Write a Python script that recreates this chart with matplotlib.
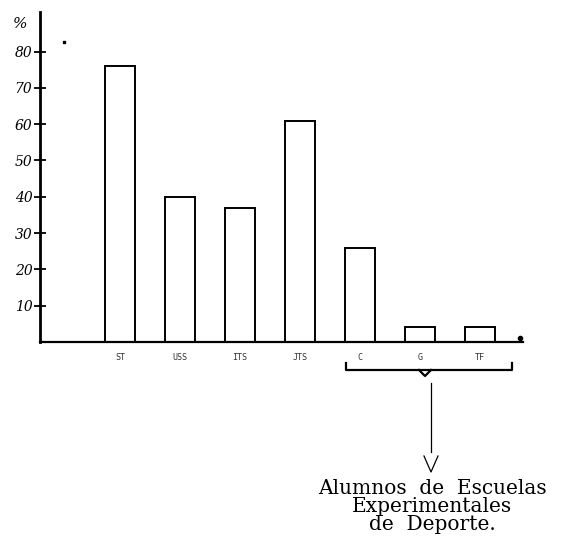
import numpy as np
import matplotlib
matplotlib.use("Agg")
import matplotlib.pyplot as plt

# ============================================================
# DATA
# ============================================================
CATEGORIES = ["ST", "USS", "ITS", "JTS", "C", "G", "TF"]
VALUES = [76, 40, 37, 61, 26, 4, 4]
Y_TICKS = [10, 20, 30, 40, 50, 60, 70, 80]
Y_TICK_LABELS = ["10", "20", "30", "40", "50", "60", "70", "80"]
NOTE_LINES = ["Alumnos  de  Escuelas", "Experimentales", "de  Deporte."]

# ============================================================
# LAYOUT (pixels of a 563x551 figure)
# ============================================================
W, H = 563, 551
AX_LEFT, AX_RIGHT = 40, 523
AX_TOP, AX_BOTTOM = 12, 342
PX_PER_UNIT = 3.63      # vertical pixels per percent
BAR_STEP = 60           # horizontal pixels between bars
FIRST_BAR = 120         # pixel centre of first bar

fig = plt.figure(figsize=(W / 100, H / 100), dpi=100)
fig.patch.set_facecolor("white")

ax = fig.add_axes([AX_LEFT / W, 1 - AX_BOTTOM / H,
                   (AX_RIGHT - AX_LEFT) / W, (AX_BOTTOM - AX_TOP) / H])

x = np.arange(len(CATEGORIES))
ax.bar(x, VALUES, width=0.5, facecolor="white", edgecolor="black", linewidth=1.4)

ax.set_xlim((AX_LEFT - FIRST_BAR) / BAR_STEP, (AX_RIGHT - FIRST_BAR) / BAR_STEP)
ax.set_ylim(0, (AX_BOTTOM - AX_TOP) / PX_PER_UNIT)

for side in ["top", "right"]:
    ax.spines[side].set_visible(False)
ax.spines["left"].set_linewidth(2.0)
ax.spines["bottom"].set_linewidth(1.6)

ax.set_yticks(Y_TICKS)
ax.set_yticklabels(Y_TICK_LABELS, fontsize=10, style="italic", family="DejaVu Serif")
ax.tick_params(axis="y", direction="inout", length=9, width=1.3, pad=1)

ax.set_xticks(x)
ax.set_xticklabels(CATEGORIES, fontsize=6, family="DejaVu Sans Mono", color="#333333")
ax.tick_params(axis="x", length=0, pad=8)

# overlay in pixel coordinates for the hand-drawn annotations
ov = fig.add_axes([0, 0, 1, 1])
ov.set_xlim(0, W)
ov.set_ylim(H, 0)
ov.axis("off")
ov.patch.set_alpha(0)

ov.text(20, 24, "%", fontsize=11, style="italic", family="DejaVu Serif", ha="center", va="center")
ov.plot([64], [42], marker="s", markersize=1.5, color="black")

# bracket under the school groups
bx0, bx1, by = 346, 512, 370
ov.plot([bx0, bx0, bx1, bx1], [by - 7, by, by, by - 7], color="black", lw=1.6)
ov.plot([419, 425, 431], [by, by + 6, by], color="black", lw=1.6)
ov.plot([520], [338], marker="o", markersize=3, color="black")

# pointer and V
ov.plot([431, 431], [383, 452], color="black", lw=0.9)
ov.plot([424, 431, 438], [456, 472, 456], color="black", lw=0.9)

for i, line in enumerate(NOTE_LINES):
    ov.text(432, 489 + i * 18, line, fontsize=14.5, family="DejaVu Serif",
            ha="center", va="center")

fig.savefig("out.png", dpi=100)
